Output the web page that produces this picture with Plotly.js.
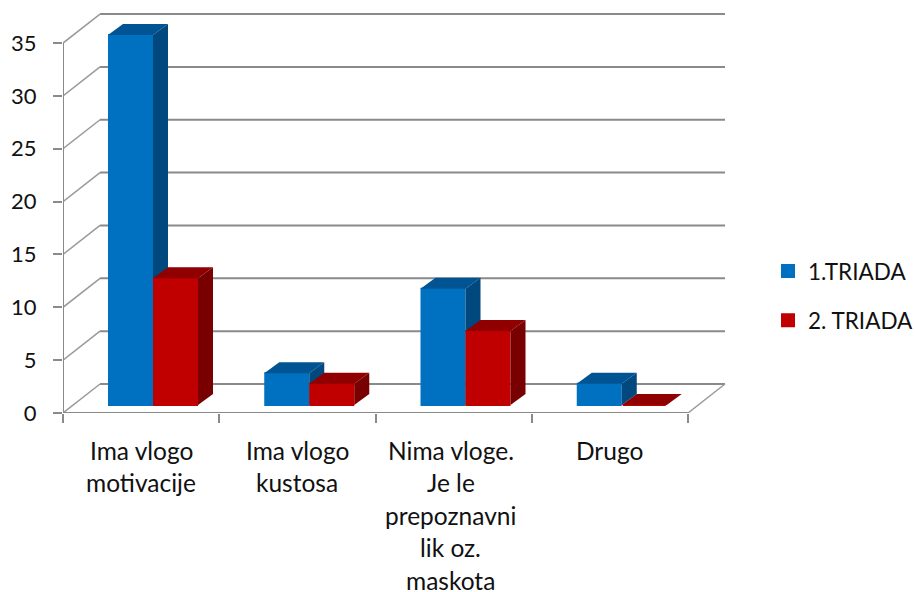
<!DOCTYPE html>
<html><head><meta charset="utf-8">
<script src="https://cdn.plot.ly/plotly-3.0.1.min.js"></script>
<style>html,body{margin:0;padding:0;background:#fff}</style>
</head><body><div id="chart" style="width:915px;height:592px"></div>
<script>
const categoryLines = [
  ["Ima vlogo","motivacije"],
  ["Ima vlogo","kustosa"],
  ["Nima vloge.","Je le","prepoznavni","lik oz.","maskota"],
  ["Drugo"]
];
const triada1 = [35,3,11,2];
const triada2 = [12,2,7,0];
const seriesNames = ["1.TRIADA","2. TRIADA"];
const yTicks = [0,5,10,15,20,25,30,35];

const W=915,H=592,L=63,R=730,T=8,B=413;
const pxX=156.25, pxY=10.57;
const wallDx=37/pxX, wallDy=29/pxY, barDx=15/pxX, barDy=11/pxY, lift=8/pxY;
const barW=45/pxX, gapL=45/pxX;
const n=categoryLines.length;
const xr=[0,(R-L)/pxX], yr=[0,(B-T)/pxY];
const hoverSkip={hoverinfo:'skip',showlegend:false};

function poly(xs,ys,color,ax){
  return Object.assign({type:'scatter',mode:'lines',x:xs,y:ys,fill:'toself',fillcolor:color,
    line:{width:0,color:color},xaxis:ax[0],yaxis:ax[1]},hoverSkip);
}
function series(vals,idx,name,cFront,cTop,cSide,ax){
  const out=[];
  const lefts=vals.map((v,i)=>i+gapL+idx*barW);
  out.push({type:'bar',name:name,legendgroup:name,x:lefts.map(l=>l+barW/2),y:vals,base:vals.map(()=>lift),width:barW-2/pxX,
    marker:{color:cFront,line:{color:cFront,width:2}},xaxis:ax[0],yaxis:ax[1],hovertemplate:'%{y}<extra>'+name+'</extra>'});
  vals.forEach((v,i)=>{
    const l=lefts[i], r=l+barW, t=lift+v, b=lift;
    out.push(poly([l,r,r+barDx,l+barDx,l],[t,t,t+barDy,t+barDy,t],cTop,ax));
    if(v>0) out.push(poly([r,r+barDx,r+barDx,r,r],[b,b+barDy,t+barDy,t,b],cSide,ax));
  });
  return out;
}
const traces=[
  ...series(triada1,0,seriesNames[0],'#0070C0','#005494','#00487E',['x','y']),
  ...series(triada2,1,seriesNames[1],'#C00000','#900000','#780000',['x2','y2'])
];
const GRID='#8a8a8a', WALL='#9a9a9a';
const shapes=[];
function ln(x0,y0,x1,y1,c,w){shapes.push({type:'line',layer:'below',xref:'x',yref:'y',x0,y0,x1,y1,line:{color:c,width:w}});}
yTicks.forEach(v=>{
  ln(wallDx,v+wallDy,n+wallDx,v+wallDy,GRID,2);
  ln(0,v,wallDx,v+wallDy,WALL,1.5);
});
ln(n,0,n+wallDx,wallDy,WALL,1.5);
ln(0,0,n,0,GRID,2);
ln(0,0,0,35,GRID,2);

const annotations=[];
const fontFam='Lato, "Open Sans", sans-serif';
categoryLines.forEach((lines,i)=>{
  lines.forEach((t,j)=>{
    annotations.push({xref:'x',yref:'paper',x:i+0.5,y:0,yanchor:'middle',xanchor:'center',showarrow:false,
      xshift:i===2?-3:0,yshift:-(37+32.5*j),text:t,font:{family:fontFam,size:24.5,color:'#111'}});
  });
});
const layout={
  width:W,height:H,paper_bgcolor:'#fff',plot_bgcolor:'#fff',
  margin:{l:L,r:W-R,t:T,b:H-B,pad:0,autoexpand:false},
  barmode:'overlay',showlegend:true,
  font:{family:fontFam,size:21,color:'#111'},
  xaxis:{range:xr,tickvals:[0,1,2,3,4],ticks:'outside',ticklen:9,tickwidth:2,tickcolor:GRID,showticklabels:false,showgrid:false,zeroline:false,showline:false},
  yaxis:{range:yr,tickvals:yTicks,ticks:'outside',ticklen:9,tickwidth:2,tickcolor:GRID,showgrid:false,zeroline:false,showline:false,ticklabelstandoff:12,ticklabelshift:3.5,tickfont:{family:fontFam,size:22,color:'#111'}},
  xaxis2:{range:xr,overlaying:'x',visible:false},
  yaxis2:{range:yr,overlaying:'y',visible:false},
  legend:{x:1.057,xanchor:'left',y:0.289,yanchor:'middle',tracegroupgap:17,font:{family:fontFam,size:22.5,color:'#111'},itemwidth:30,bgcolor:'rgba(0,0,0,0)'},
  shapes,annotations
};
Plotly.newPlot('chart',traces,layout,{displayModeBar:false,responsive:false});
</script></body></html>
